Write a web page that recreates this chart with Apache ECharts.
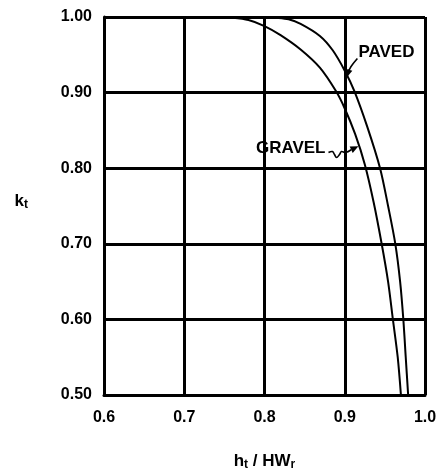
<!DOCTYPE html>
<html><head><meta charset="utf-8">
<script src="https://cdn.jsdelivr.net/npm/echarts@6/dist/echarts.min.js"></script>
<style>html,body{margin:0;padding:0;background:#fff}#c{width:440px;height:476px}</style>
</head><body><div id="c"></div>
<script>
// ---- data ----
const xTicks = [0.6, 0.7, 0.8, 0.9, 1.0];
const yTicks = [0.5, 0.6, 0.7, 0.8, 0.9, 1.0];
const gravelX = [0.74, 0.76, 0.78, 0.80, 0.82, 0.845, 0.869, 0.889, 0.900, 0.913, 0.925, 0.936, 0.946, 0.954, 0.960, 0.966, 0.970];
const gravelK = [1.000, 0.999, 0.996, 0.988, 0.976, 0.957, 0.933, 0.902, 0.879, 0.845, 0.805, 0.755, 0.700, 0.650, 0.600, 0.550, 0.500];
const pavedX = [0.80, 0.815, 0.83, 0.845, 0.869, 0.885, 0.900, 0.912, 0.928, 0.944, 0.954, 0.963, 0.969, 0.973, 0.976, 0.979];
const pavedK = [1.000, 0.999, 0.997, 0.991, 0.975, 0.956, 0.929, 0.902, 0.855, 0.800, 0.750, 0.700, 0.650, 0.600, 0.550, 0.500];
const labelNames = ['PAVED', 'GRAVEL'];
// annotation anchors (data coords): label anchor and arrow tip
const pavedLabelAt = [0.917, 0.953];
const pavedTip = [0.9025, 0.920];
const gravelLabelAt = [0.876, 0.826];
const gravelTip = [0.917, 0.829];

const font = '"Liberation Sans", Arial, Helvetica, sans-serif';
const chart = echarts.init(document.getElementById('c'), null, {renderer: 'canvas'});
const axisLbl = {color: '#000', fontSize: 16, fontWeight: 'bold', fontFamily: font};
chart.setOption({
  animation: false,
  backgroundColor: '#fff',
  grid: {left: 104, right: 15, top: 17, bottom: 78},
  xAxis: {
    type: 'value', min: xTicks[0], max: xTicks[xTicks.length - 1], interval: 0.1,
    axisLine: {lineStyle: {color: '#000', width: 3}},
    axisTick: {show: false},
    splitLine: {lineStyle: {color: '#000', width: 3}},
    axisLabel: Object.assign({margin: 15, formatter: v => v.toFixed(1)}, axisLbl),
    name: '{b|h}{s|t}{b| / HW}{s|r}', nameLocation: 'middle', nameGap: 56,
    nameTextStyle: {rich: {
      b: {fontSize: 17, fontFamily: font, fontWeight: 'bold', color: '#000'},
      s: {fontSize: 12, fontFamily: font, fontWeight: 'bold', color: '#000', verticalAlign: 'bottom', padding: [8, 0, 0, 0]}
    }}
  },
  yAxis: {
    type: 'value', min: yTicks[0], max: yTicks[yTicks.length - 1], interval: 0.1,
    axisLine: {lineStyle: {color: '#000', width: 3}},
    axisTick: {show: false},
    splitLine: {lineStyle: {color: '#000', width: 3}},
    axisLabel: Object.assign({margin: 12, formatter: v => v.toFixed(2)}, axisLbl),
    name: '{b|k}{s|t}', nameLocation: 'middle', nameRotate: 0, nameGap: 76,
    nameTextStyle: {padding: [0, 0, 10, 0], rich: {
      b: {fontSize: 17, fontFamily: font, fontWeight: 'bold', color: '#000'},
      s: {fontSize: 12, fontFamily: font, fontWeight: 'bold', color: '#000', verticalAlign: 'bottom', padding: [8, 0, 0, 0]}
    }}
  },
  series: [
    {name: 'GRAVEL', type: 'line', data: gravelX.map((x, i) => [x, gravelK[i]]), showSymbol: false, smooth: 0.3,
     lineStyle: {color: '#000', width: 2}, z: 5},
    {name: 'PAVED', type: 'line', data: pavedX.map((x, i) => [x, pavedK[i]]), showSymbol: false, smooth: 0.3,
     lineStyle: {color: '#000', width: 2}, z: 5}
  ]
});

function px(p) { return chart.convertToPixel({gridIndex: 0}, p); }
function arrow(points) {
  const n = points.length;
  const a = points[n - 2], b = points[n - 1];
  const dx = b[0] - a[0], dy = b[1] - a[1];
  const L = Math.hypot(dx, dy) || 1;
  const ux = dx / L, uy = dy / L;
  const len = 8, hw = 3.5;
  const base = [b[0] - ux * len, b[1] - uy * len];
  return [
    {type: 'polyline', shape: {points: points.slice(0, n - 1).concat([base]), smooth: 0.4}, style: {stroke: '#000', lineWidth: 1.6, fill: null}, z: 10},
    {type: 'polygon', shape: {points: [b, [base[0] - uy * hw, base[1] + ux * hw], [base[0] + uy * hw, base[1] - ux * hw]]}, style: {fill: '#000'}, z: 10}
  ];
}
const pl = px(pavedLabelAt), pt = px(pavedTip), gl = px(gravelLabelAt), gt = px(gravelTip);
const graphics = [
  {type: 'text', x: pl[0], y: pl[1], style: {text: labelNames[0], font: 'bold 17px ' + font, fill: '#000', textAlign: 'left', textVerticalAlign: 'middle'}, z: 10},
  {type: 'text', x: gl[0], y: gl[1], style: {text: labelNames[1], font: 'bold 17px ' + font, fill: '#000', textAlign: 'right', textVerticalAlign: 'middle'}, z: 10}
];
// PAVED arrow: from below the label bending down to the curve
graphics.push(...arrow([[pl[0] - 1, pl[1] + 6], [pt[0] + 5, pt[1] - 12], [pt[0] + 2, pt[1] - 7], [pt[0], pt[1]]]));
// GRAVEL squiggle arrow
const sx = gl[0] + 3, sy = gl[1] + 4;
graphics.push(...arrow([[sx, sy], [sx + 4, sy - 1], [sx + 6, sy + 2], [sx + 8, sy + 5], [sx + 11, sy + 2], [sx + 13, sy - 1], [sx + 17, sy], [gt[0], gt[1]]]));
chart.setOption({graphic: graphics});
</script>
</body></html>
